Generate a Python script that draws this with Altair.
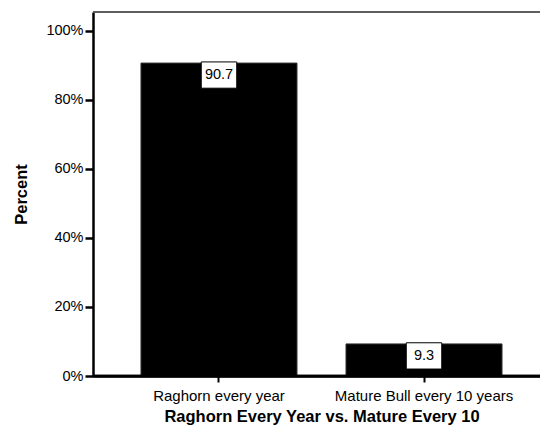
import altair as alt
import pandas as pd

categories = ["Raghorn every year", "Mature Bull every 10 years"]
percents = [90.7, 9.3]
labels = ["90.7", "9.3"]
y_ticks = [0, 20, 40, 60, 80, 100]

df = pd.DataFrame({"cat": categories, "pct": percents, "lab": labels})

FONT = "Liberation Sans"

x_enc = alt.X(
    "cat:N",
    sort=categories,
    title="Raghorn Every Year vs. Mature Every 10",
    scale=alt.Scale(paddingInner=0.239, paddingOuter=0.234, range=[0, 457]),
    axis=alt.Axis(
        labelAngle=0,
        labelFontSize=15,
        labelFont=FONT,
        labelColor="black",
        labelPadding=6,
        tickSize=6,
        tickWidth=2,
        tickColor="black",
        domainColor="black",
        domainWidth=2.5,
        titleFont=FONT,
        titleFontSize=16.5,
        titleFontWeight="bold",
        titleColor="black",
        titlePadding=5,
    ),
)

y_enc = alt.Y(
    "pct:Q",
    title="Percent",
    scale=alt.Scale(domain=[0, 105.5], nice=False),
    axis=alt.Axis(
        values=y_ticks,
        labelExpr="datum.value + '%'",
        grid=False,
        labelFontSize=14.5,
        labelFont=FONT,
        labelColor="black",
        labelPadding=2,
        tickSize=8,
        tickWidth=2.5,
        tickColor="black",
        domainColor="black",
        domainWidth=2.5,
        titleFont=FONT,
        titleFontSize=16.5,
        titleFontWeight="bold",
        titleColor="black",
        titlePadding=16,
    ),
)

bars = alt.Chart(df).mark_bar(color="black", stroke="#333", strokeWidth=1).encode(
    x=x_enc, y=y_enc
)

box = alt.Chart(df).mark_point(
    shape="M-1,-0.74L1,-0.74L1,0.74L-1,0.74Z",
    size=1260,
    filled=True,
    fill="white",
    stroke="black",
    strokeWidth=1,
    opacity=1,
    yOffset=12,
).encode(x=alt.X("cat:N", sort=categories), y="pct:Q")

txt = alt.Chart(df).mark_text(
    font=FONT, fontSize=14.5, color="black", yOffset=12, baseline="middle"
).encode(x=alt.X("cat:N", sort=categories), y="pct:Q", text="lab:N")

top_line = alt.Chart(df).mark_rule(color="#555", strokeWidth=1.5).encode(
    x=alt.value(0), x2=alt.value(470), y=alt.value(0)
)

bottom_line = alt.Chart(df).mark_rule(color="black", strokeWidth=2.5).encode(
    x=alt.value(0), x2=alt.value(470), y=alt.value(364)
)

chart = (
    alt.layer(bars, box, txt, top_line, bottom_line)
    .properties(
        width=447,
        height=364,
        autosize=alt.AutoSizeParams(type="none"),
        padding={"left": 85, "top": 4, "right": 0, "bottom": 56},
    )
    .configure_view(stroke=None)
    .configure(background="white")
)

chart.save("out.html", embed_options={"renderer": "svg", "actions": False})
